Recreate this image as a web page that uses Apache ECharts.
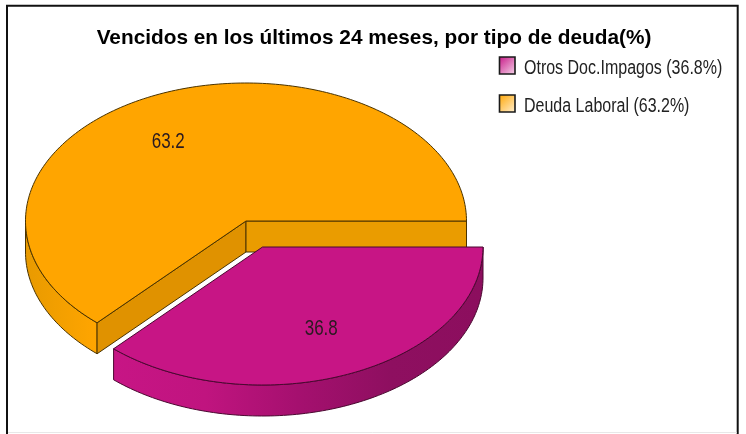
<!DOCTYPE html>
<html><head><meta charset="utf-8">
<style>html,body{margin:0;padding:0;background:#fff}#c{width:746px;height:434px}</style>
<script src="https://cdn.jsdelivr.net/npm/echarts@6/dist/echarts.min.js"></script>
</head><body><div id="c"></div>
<script>
const titleText = 'Vencidos en los últimos 24 meses, por tipo de deuda(%)';
const categories = ['Otros Doc.Impagos', 'Deuda Laboral'];
const values = [36.8, 63.2];
const topColors = ['#C71585', '#FFA500'];
const fadeColors = ['#F6D8EC', '#FFF1D6'];
const inkColors = ['#4a0830', '#4a3300'];

const RX = 220.5, RY = 138, DEPTH = 31;
const pieCentre = [246, 221];
const explode = [[16.5, 26], [0, 0]];
const labelNudge = [[1, 0], [-20, 3]];
const FONT = '"Liberation Sans",Arial,sans-serif';
const total = values.reduce((a, b) => a + b, 0);

function pt(c, a, dy) { return [c[0] + RX * Math.cos(a), c[1] + RY * Math.sin(a) + (dy || 0)]; }
function arc(c, a0, a1, dy) {
  const n = Math.max(2, Math.ceil(Math.abs(a1 - a0) / 0.02)), out = [];
  for (let i = 0; i <= n; i++) out.push(pt(c, a0 + (a1 - a0) * i / n, dy));
  return out;
}
function grad(stops, x0, x1) {
  return { type: 'linear', global: true, x: x0, y: 0, x2: x1, y2: 0,
    colorStops: stops.map((s, i) => ({ offset: i / (stops.length - 1), color: s })) };
}
function renderSlice(idx) {
  const poly = (points, fill) => ({ type: 'polygon', shape: { points }, style: { fill, stroke: inkColors[idx], lineWidth: 1, lineJoin: 'round' } });
  return function (params, api) {
    const v = api.value(0);
    let before = 0;
    for (let i = 0; i < idx; i++) before += values[i];
    const a0 = before / total * 2 * Math.PI, a1 = (before + v) / total * 2 * Math.PI;
    const c = [pieCentre[0] + explode[idx][0], pieCentre[1] + explode[idx][1]];
    const kids = [];
    const w0 = Math.max(a0, 0), w1 = Math.min(a1, Math.PI);
    if (w1 > w0) {
      const wall = arc(c, w0, w1).concat(arc(c, w1, w0, DEPTH));
      const fill = idx === 0
        ? grad(['#C71585', '#C0147F', '#A5106F', '#8E0F60', '#8C0E5E'], c[0] - RX * 0.68, c[0] + RX)
        : grad(['#E89A00', '#FFA500'], c[0] - RX, c[0] - RX * 0.68);
      kids.push(poly(wall, fill));
    }
    if (idx === 1) {
      [[a0, '#E09200'], [a1, '#EA9C00']].forEach(function (s) {
        const p = pt(c, s[0]);
        kids.push(poly([c, p, [p[0], p[1] + DEPTH], [c[0], c[1] + DEPTH]], s[1]));
      });
    }
    kids.push(poly([c].concat(arc(c, a0, a1)), topColors[idx]));
    const mid = (a0 + a1) / 2;
    kids.push({ type: 'text', z2: 10,
      x: c[0] + 0.65 * RX * Math.cos(mid) + labelNudge[idx][0],
      y: c[1] + 0.65 * RY * Math.sin(mid) + labelNudge[idx][1],
      scaleY: 1.3,
      style: { text: String(v), align: 'center', verticalAlign: 'middle', fill: '#2a1a20', font: '17px ' + FONT } });
    return { type: 'group', children: kids };
  };
}
const legendTop = 57, legendStep = 38;
const legendItems = categories.flatMap((n, i) => [
  { type: 'rect', silent: true, shape: { x: 499.5, y: legendTop + i * legendStep, width: 15.5, height: 17 },
    style: { stroke: '#1a1a1a', lineWidth: 1.6,
      fill: new echarts.graphic.LinearGradient(0, 0, 1, 1, [{ offset: 0, color: topColors[i] }, { offset: 1, color: fadeColors[i] }]) } },
  { type: 'text', silent: true, x: 524, y: legendTop + 11 + i * legendStep, scaleY: 1.25,
    style: { text: n + ' (' + values[i].toFixed(1) + '%)', fill: '#222', font: '16px ' + FONT, align: 'left', verticalAlign: 'middle' } }
]);
const order = [1, 0];
const chart = echarts.init(document.getElementById('c'), null, { renderer: 'canvas' });
chart.setOption({
  animation: false,
  backgroundColor: '#fff',
  title: { text: titleText, left: 369, top: 23, textAlign: 'center',
    textStyle: { color: '#000', fontFamily: 'Liberation Sans', fontWeight: 'bold', fontSize: 20.8 } },
  graphic: [
    { type: 'rect', z: -1, silent: true, shape: { x: 7, y: 5.8, width: 730.7, height: 440 }, style: { fill: '#fff', stroke: '#111', lineWidth: 2 } },
    { type: 'line', z: -1, silent: true, shape: { x1: 8, y1: 432.5, x2: 736.7, y2: 432.5 }, style: { stroke: '#e8e8e8', lineWidth: 1 } }
  ].concat(legendItems),
  series: order.map(i => ({
    type: 'custom', name: categories[i], coordinateSystem: 'none',
    renderItem: renderSlice(i), data: [[values[i]]], silent: true,
    itemStyle: { color: topColors[i] }
  }))
});
</script></body></html>
